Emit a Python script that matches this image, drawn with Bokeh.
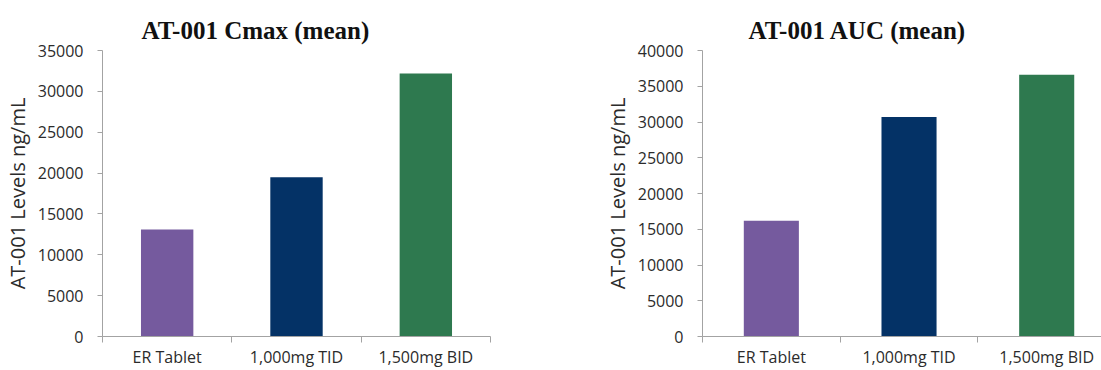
from bokeh.plotting import figure
from bokeh.layouts import row
from bokeh.models import Range1d, FixedTicker, ColumnDataSource
from bokeh.embed import file_html
from bokeh.resources import INLINE

categories = ["ER Tablet", "1,000mg TID", "1,500mg BID"]
cmax_values = [13100, 19500, 32200]
auc_values = [16200, 30700, 36600]
bar_colors = ["#755A9E", "#043266", "#2E794F"]

TICK_FONT = "Open Sans"
AXIS_GRAY = "#A3A3A3"
TEXT_COLOR = "#2b2b2b"


def make_chart(title, values, ymax, width, border_left, border_right, title_offset,
               bar_width, x_end):
    n = len(categories)
    xs = [i + 0.5 for i in range(n)]
    src = ColumnDataSource(dict(x=xs, top=values, color=bar_colors, cat=categories))
    p = figure(width=width, height=370, x_range=Range1d(0, x_end), y_range=Range1d(0, ymax),
               output_backend="svg", toolbar_location=None,
               min_border_left=border_left, min_border_right=border_right,
               min_border_top=50, min_border_bottom=34)
    p.vbar(x="x", top="top", width=bar_width, color="color", source=src, line_color=None)
    p.xgrid.visible = False
    p.ygrid.visible = False
    p.outline_line_color = None

    p.title.text = title
    p.title.text_font = "Liberation Serif"
    p.title.text_font_style = "bold"
    p.title.text_font_size = "25px"
    p.title.text_color = "#111111"
    p.title.align = "left"
    p.title.offset = title_offset
    p.title.standoff = 13

    xa = p.xaxis[0]
    xa.ticker = FixedTicker(ticks=xs, minor_ticks=list(range(n + 1)))
    xa.major_label_overrides = {x: c for x, c in zip(xs, categories)}
    xa.major_tick_line_color = None
    xa.major_tick_out = 0
    xa.major_tick_in = 0
    xa.minor_tick_out = 6
    xa.minor_tick_in = 0
    xa.minor_tick_line_color = AXIS_GRAY
    xa.axis_line_color = AXIS_GRAY
    xa.major_label_standoff = 3
    xa.major_label_text_line_height = 0.9
    xa.major_label_text_font = TICK_FONT
    xa.major_label_text_font_size = "16px"
    xa.major_label_text_color = TEXT_COLOR

    ya = p.yaxis[0]
    ya.ticker = FixedTicker(ticks=list(range(0, ymax + 1, 5000)))
    ya.minor_tick_line_color = None
    ya.major_tick_out = 5
    ya.major_tick_in = 0
    ya.major_tick_line_color = AXIS_GRAY
    ya.axis_line_color = AXIS_GRAY
    ya.major_label_standoff = 14
    ya.major_label_text_font = TICK_FONT
    ya.major_label_text_font_size = "16px"
    ya.major_label_text_color = TEXT_COLOR
    ya.axis_label = "AT-001 Levels ng/mL"
    ya.axis_label_text_font = TICK_FONT
    ya.axis_label_text_font_style = "normal"
    ya.axis_label_text_font_size = "20px"
    ya.axis_label_text_color = TEXT_COLOR
    ya.axis_label_standoff = 4
    return p


p1 = make_chart("AT-001 Cmax (mean)", cmax_values, 35000, 560, 100, 70, 39, 0.405, 3)
p2 = make_chart("AT-001 AUC (mean)", auc_values, 40000, 541, 142, 0, 46, 0.40, 2.898)

p = row(p1, p2)
open("out.html", "w").write(file_html(p, INLINE))
